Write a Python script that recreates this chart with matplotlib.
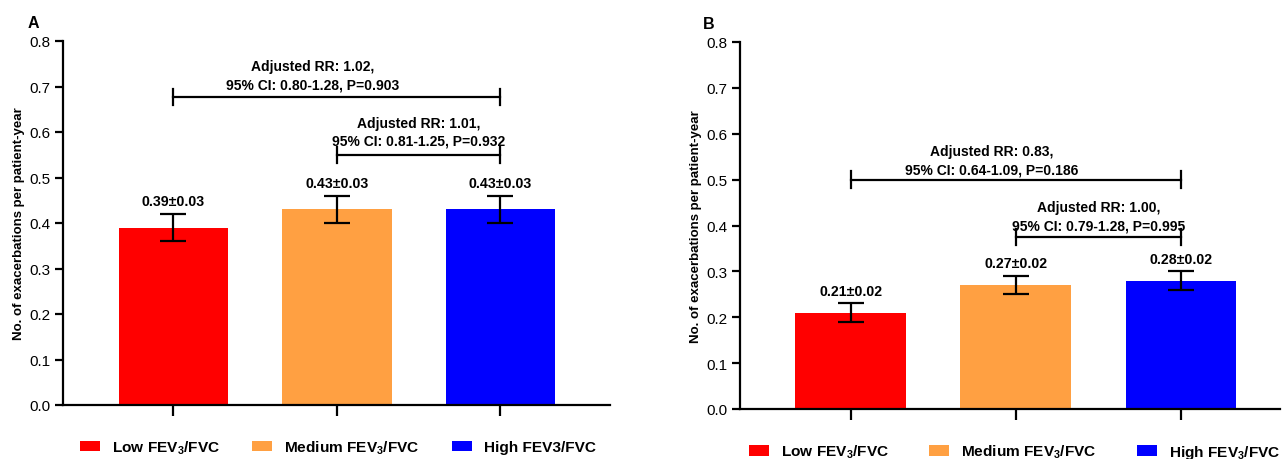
import numpy as np
import matplotlib
matplotlib.use('Agg')
import matplotlib.pyplot as plt
from matplotlib import font_manager as fm
from matplotlib.patches import Patch

# data
groups = ['Low', 'Medium', 'High']
colors = ['#ff0000', '#ffa042', '#0000ff']
rate_a = [0.39, 0.43, 0.43]
err_a = [0.03, 0.03, 0.03]
rate_b = [0.21, 0.27, 0.28]
err_b = [0.02, 0.02, 0.02]
legend_a = ['Low FEV$_3$/FVC', 'Medium FEV$_3$/FVC', 'High FEV3/FVC']
legend_b = ['Low FEV$_3$/FVC', 'Medium FEV$_3$/FVC', 'High FEV$_3$/FVC']
# comparisons: (from, to, bracket height, text, text x, text y)
comp_a = [(0, 2, 0.677, 'Adjusted RR: 1.02,\n95% CI: 0.80-1.28, P=0.903', 0.85, 0.69),
          (1, 2, 0.55, 'Adjusted RR: 1.01,\n95% CI: 0.81-1.25, P=0.932', 1.5, 0.565)]
comp_b = [(0, 2, 0.50, 'Adjusted RR: 0.83,\n95% CI: 0.64-1.09, P=0.186', 0.855, 0.507),
          (1, 2, 0.375, 'Adjusted RR: 1.00,\n95% CI: 0.79-1.28, P=0.995', 1.5, 0.385)]

names = {f.name for f in fm.fontManager.ttflist}
narrow = 'Liberation Sans Narrow' if 'Liberation Sans Narrow' in names else 'Liberation Sans'
plt.rcParams['font.family'] = [narrow, 'DejaVu Sans']
plt.rcParams['mathtext.fontset'] = 'custom'
plt.rcParams['mathtext.rm'] = narrow + ':bold'
plt.rcParams['mathtext.default'] = 'rm'

fig = plt.figure(figsize=(12.83, 4.6), dpi=100)
W, H = 1283, 460


def panel(rect, vals, errs, comps, labels, letter, letter_x, xlim, leg_anchor, colspace):
    l, r, t, b = rect
    ax = fig.add_axes([l / W, 1 - b / H, (r - l) / W, (b - t) / H])
    x = np.arange(len(vals))
    ax.bar(x, vals, width=0.67, color=colors, edgecolor='none', zorder=2)
    ax.errorbar(x, vals, yerr=errs, fmt='none', ecolor='black', elinewidth=1.6,
                capsize=9.4, capthick=1.6, zorder=3)
    for xi, v, e in zip(x, vals, errs):
        ax.text(xi, v + e + 0.012, f'{v:.2f}\u00b1{e:.2f}', ha='center', va='bottom',
                fontsize=10.2, fontweight='bold')
    for x0, x1, yb, txt, tx, ty in comps:
        ax.plot([x0, x1], [yb, yb], color='black', lw=1.6, zorder=3)
        for xe in (x0, x1):
            ax.plot([xe, xe], [yb - 0.018, yb + 0.018], color='black', lw=1.6, zorder=3)
        ax.text(tx, ty, txt, ha='center', va='bottom', fontsize=10,
                fontweight='bold', linespacing=1.4)
    ax.set_xlim(*xlim)
    ax.set_ylim(0, 0.8)
    ax.set_yticks(np.arange(0, 0.81, 0.1))
    ax.set_yticklabels([f'{v:.1f}' for v in np.arange(0, 0.81, 0.1)], fontsize=11)
    ax.set_xticks(x)
    ax.set_xticklabels([])
    ax.tick_params(axis='y', length=6, width=1.6, pad=3)
    ax.tick_params(axis='x', length=8, width=1.6)
    for s in ('top', 'right'):
        ax.spines[s].set_visible(False)
    for s in ('left', 'bottom'):
        ax.spines[s].set_linewidth(1.6)
    ax.set_ylabel('No. of exacerbations per patient-year', fontsize=9.5,
                  fontweight='bold', family=['Liberation Sans', 'DejaVu Sans'], labelpad=3)
    ax.text(letter_x, 1.03, letter, transform=ax.transAxes, fontsize=11.5,
            fontweight='bold', ha='left', va='bottom')
    handles = [Patch(facecolor=c, edgecolor='none') for c in colors]
    ax.legend(handles, labels, ncol=3, frameon=False, loc='center left',
              bbox_to_anchor=leg_anchor, handlelength=1.3, borderpad=0, borderaxespad=0,
              handleheight=0.65, handletextpad=0.78, columnspacing=colspace,
              prop={'weight': 'bold', 'size': 11.1})
    return ax


panel((63, 610, 42, 406), rate_a, err_a, comp_a, legend_a, 'A', -0.065,
      (-0.675, 2.67), (0.031, -0.115), 2.1)
panel((740, 1280, 43, 410), rate_b, err_b, comp_b, legend_b, 'B', -0.068,
      (-0.67, 2.6), (0.017, -0.117), 2.6)

fig.savefig('out.png', dpi=100)
